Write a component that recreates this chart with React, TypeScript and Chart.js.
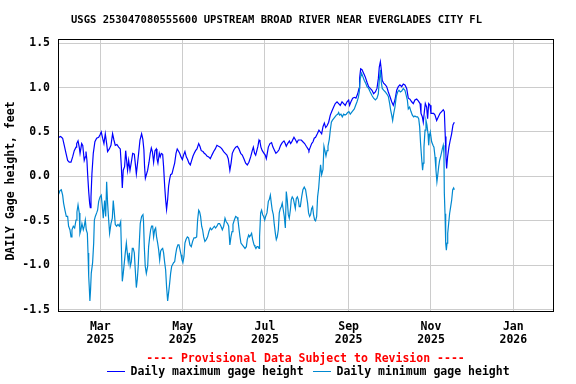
import React, { useEffect, useRef } from "react";
import { Chart, registerables } from "chart.js";

Chart.register(...registerables);

// Days counted from Jan 1, 2025 (= day 0)
const tickDays = [59, 120, 181, 243, 304, 365];
const tickMonths = ["Mar", "May", "Jul", "Sep", "Nov", "Jan"];
const tickYears = ["2025", "2025", "2025", "2025", "2025", "2026"];
const yTicks = [-1.5, -1.0, -0.5, 0.0, 0.5, 1.0, 1.5];

const maxDays = [
  28.1, 29.6, 31.1, 32.3, 33.6, 34.8, 36.0, 37.3, 38.5, 39.7, 41.0, 41.5, 42.5, 43.4, 44.0, 44.5, 45.2, 46.0, 47.1, 47.9,
  48.4, 49.1, 49.6, 50.4, 51.1, 51.6, 52.1, 52.8, 53.8, 55.0, 56.3, 57.8, 58.8, 59.7, 60.7, 61.7, 62.7, 63.7, 64.4, 65.7,
  66.9, 68.1, 69.1, 70.1, 71.3, 72.6, 73.8, 74.6, 75.3, 76.0, 77.0, 77.8, 78.5, 79.2, 80.0, 81.0, 82.0, 83.0, 84.2, 84.9,
  85.7, 86.6, 87.4, 88.4, 89.6, 90.5, 91.3, 91.8, 92.4, 94.1, 95.1, 96.0, 96.8, 97.6, 98.5, 99.5, 100.5, 101.0, 101.7, 102.7,
  103.4, 104.2, 105.2, 105.9, 106.7, 107.4, 108.1, 108.9, 109.6, 110.4, 111.1, 112.1, 113.1, 114.1, 115.1, 116.0, 116.8, 117.8, 118.8, 119.8,
  120.7, 121.7, 122.7, 123.7, 124.7, 125.7, 126.7, 127.7, 128.6, 129.6, 130.6, 131.9, 132.8, 133.8, 135.1, 136.0, 137.0, 138.0, 139.3, 140.5,
  141.7, 143.0, 144.2, 145.4, 146.6, 147.9, 149.1, 150.4, 151.6, 152.8, 153.8, 155.0, 155.9, 156.8, 158.0, 159.3, 160.5, 161.7, 163.0, 164.2,
  165.4, 166.7, 167.9, 169.1, 170.4, 171.6, 172.4, 173.3, 174.1, 174.8, 175.8, 176.6, 177.3, 178.0, 179.0, 180.3, 181.2, 182.0, 182.7, 183.5,
  184.7, 185.9, 186.9, 188.2, 189.1, 190.4, 191.4, 192.6, 193.8, 195.1, 195.8, 196.8, 197.8, 199.1, 200.0, 200.5, 201.2, 202.5, 203.7, 204.7,
  205.7, 206.7, 207.9, 209.1, 210.4, 211.6, 212.9, 213.6, 214.6, 215.6, 216.6, 217.5, 218.5, 219.8, 221.0, 222.0, 223.0, 224.0, 225.0, 226.0,
  227.0, 228.2, 229.4, 230.7, 231.9, 233.1, 234.4, 235.6, 236.8, 238.1, 239.3, 240.5, 241.8, 243.0, 243.7, 244.7, 246.0, 247.2, 248.4, 249.7,
  250.7, 251.1, 251.9, 252.9, 254.1, 255.3, 256.6, 257.8, 259.0, 260.3, 261.5, 262.8, 264.0, 265.0, 265.7, 266.5, 267.2, 267.9, 268.9, 270.2,
  271.2, 272.4, 273.6, 274.9, 276.1, 277.3, 278.6, 279.8, 281.0, 282.3, 283.5, 284.7, 286.0, 287.2, 288.4, 289.7, 290.9, 292.1, 293.4, 294.6,
  295.9, 296.6, 297.6, 298.3, 299.1, 299.8, 300.8, 301.5, 302.3, 303.3, 304.0, 305.0, 306.0, 307.0, 308.2, 309.4, 310.7, 311.9, 313.1, 313.9,
  314.6, 315.1, 315.6, 316.3, 317.3, 318.3, 319.3, 320.3, 321.3,
];
const maxHeights = [
  0.44, 0.45, 0.43, 0.35, 0.26, 0.18, 0.16, 0.16, 0.22, 0.29, 0.33, 0.37, 0.40, 0.33, 0.26, 0.26, 0.37, 0.35, 0.18, 0.22,
  0.28, 0.18, 0.03, -0.17, -0.30, -0.35, -0.23, 0.03, 0.26, 0.39, 0.43, 0.44, 0.47, 0.50, 0.43, 0.37, 0.48, 0.37, 0.28, 0.31,
  0.35, 0.48, 0.41, 0.35, 0.36, 0.33, 0.31, 0.11, -0.13, 0.07, 0.11, 0.29, 0.18, 0.07, 0.18, 0.07, 0.16, 0.26, 0.25, 0.15,
  0.03, 0.15, 0.26, 0.41, 0.48, 0.42, 0.30, 0.11, -0.02, 0.07, 0.16, 0.26, 0.32, 0.28, 0.16, 0.29, 0.31, 0.20, 0.15, 0.26,
  0.22, 0.26, 0.25, 0.11, -0.11, -0.26, -0.37, -0.26, -0.11, -0.03, 0.02, 0.03, 0.09, 0.15, 0.26, 0.31, 0.29, 0.26, 0.22, 0.19,
  0.24, 0.28, 0.22, 0.19, 0.15, 0.13, 0.18, 0.23, 0.26, 0.29, 0.31, 0.37, 0.34, 0.29, 0.28, 0.26, 0.25, 0.23, 0.22, 0.20,
  0.24, 0.28, 0.31, 0.35, 0.34, 0.33, 0.31, 0.28, 0.26, 0.24, 0.20, 0.07, 0.15, 0.26, 0.30, 0.33, 0.34, 0.31, 0.26, 0.24,
  0.20, 0.15, 0.13, 0.16, 0.22, 0.29, 0.33, 0.26, 0.24, 0.28, 0.34, 0.41, 0.39, 0.33, 0.29, 0.26, 0.24, 0.20, 0.26, 0.33,
  0.37, 0.38, 0.33, 0.29, 0.26, 0.28, 0.30, 0.35, 0.38, 0.40, 0.38, 0.34, 0.37, 0.40, 0.37, 0.38, 0.40, 0.44, 0.41, 0.38,
  0.41, 0.41, 0.41, 0.39, 0.37, 0.34, 0.31, 0.29, 0.33, 0.37, 0.39, 0.43, 0.44, 0.48, 0.52, 0.50, 0.48, 0.56, 0.60, 0.55,
  0.57, 0.61, 0.69, 0.74, 0.78, 0.82, 0.84, 0.82, 0.80, 0.84, 0.82, 0.80, 0.84, 0.86, 0.80, 0.84, 0.88, 0.89, 0.88, 0.93,
  0.99, 1.10, 1.21, 1.20, 1.16, 1.12, 1.06, 1.01, 0.99, 0.97, 0.93, 0.95, 0.99, 1.10, 1.23, 1.29, 1.20, 1.08, 1.05, 1.03,
  1.01, 0.95, 0.90, 0.84, 0.80, 0.86, 0.97, 1.01, 1.03, 1.01, 1.04, 1.03, 0.99, 0.88, 0.87, 0.84, 0.82, 0.86, 0.87, 0.85,
  0.82, 0.71, 0.67, 0.61, 0.73, 0.82, 0.78, 0.65, 0.82, 0.80, 0.71, 0.71, 0.71, 0.69, 0.63, 0.67, 0.71, 0.73, 0.75, 0.73,
  0.45, 0.22, 0.09, 0.22, 0.33, 0.41, 0.48, 0.58, 0.61,
];

const minDays = [
  28.1, 29.1, 30.1, 31.1, 31.8, 32.8, 33.8, 34.8, 35.5, 36.5, 37.3, 38.0, 39.0, 40.0, 41.0, 41.7, 42.5, 43.4, 43.9, 44.6,
  45.4, 46.4, 47.1, 47.9, 48.6, 49.4, 49.9, 50.4, 50.9, 51.3, 51.8, 52.3, 53.3, 54.1, 54.6, 55.3, 56.3, 57.0, 57.8, 58.8,
  59.7, 60.5, 61.2, 62.2, 63.0, 63.7, 64.4, 65.2, 65.9, 66.9, 67.9, 68.6, 69.4, 70.1, 71.1, 72.1, 73.1, 74.1, 74.6, 75.3,
  76.0, 76.8, 77.5, 78.3, 79.0, 79.7, 80.5, 81.2, 82.0, 82.7, 83.4, 84.2, 84.9, 85.7, 86.4, 87.1, 87.9, 88.6, 89.6, 90.6,
  91.0, 91.6, 92.3, 93.1, 94.1, 94.8, 95.6, 96.3, 97.0, 97.8, 98.5, 99.3, 100.0, 100.7, 101.5, 102.2, 103.0, 103.7, 104.4, 105.2,
  105.9, 106.7, 107.4, 108.1, 108.9, 109.6, 110.4, 111.1, 111.9, 112.6, 113.3, 114.1, 114.8, 115.6, 116.5, 117.3, 118.0, 118.8, 119.5, 120.2,
  121.0, 121.7, 122.5, 123.5, 124.4, 125.4, 126.4, 127.4, 128.4, 129.4, 130.4, 131.1, 131.9, 132.6, 133.3, 134.1, 134.8, 135.6, 136.5, 137.5,
  138.5, 139.5, 140.5, 141.5, 142.5, 143.5, 144.4, 145.4, 146.4, 147.4, 148.4, 149.4, 150.4, 151.4, 152.3, 153.3, 154.1, 155.0, 155.8, 156.6,
  157.3, 158.3, 159.3, 160.3, 161.0, 161.7, 162.5, 163.2, 164.2, 165.2, 166.2, 167.2, 167.9, 168.9, 169.6, 170.4, 171.1, 171.9, 172.9, 173.6,
  174.3, 175.1, 175.9, 176.6, 177.0, 177.8, 178.5, 179.3, 180.0, 180.8, 181.5, 182.5, 183.5, 184.2, 185.0, 185.7, 186.4, 187.2, 187.9, 188.7,
  189.4, 190.1, 190.9, 191.6, 192.4, 193.1, 193.8, 194.6, 195.3, 196.1, 196.8, 197.5, 198.3, 199.0, 199.8, 200.5, 201.2, 202.0, 202.7, 203.5,
  204.2, 205.0, 205.7, 206.4, 207.2, 208.2, 209.1, 210.1, 211.1, 211.9, 212.6, 213.3, 214.1, 214.8, 215.6, 216.3, 217.0, 217.8, 218.5, 219.3,
  220.0, 220.8, 221.5, 222.2, 223.0, 224.0, 224.7, 225.4, 226.2, 227.0, 227.7, 228.7, 229.4, 230.2, 230.9, 231.9, 232.9, 233.9, 234.9, 235.6,
  236.3, 237.3, 238.3, 239.3, 240.3, 241.3, 242.3, 243.2, 244.2, 245.2, 246.2, 247.2, 248.2, 249.2, 250.2, 250.9, 251.6, 252.6, 253.6, 254.6,
  255.6, 256.6, 257.8, 259.0, 260.3, 261.5, 262.8, 264.0, 265.0, 265.7, 266.5, 267.2, 267.9, 268.9, 270.2, 271.2, 272.4, 273.4, 274.1, 274.9,
  275.6, 276.4, 277.3, 278.3, 279.3, 280.3, 281.3, 282.3, 283.5, 284.7, 285.7, 286.5, 287.2, 288.2, 289.2, 290.2, 291.2, 292.1, 293.1, 294.1,
  294.9, 295.6, 296.3, 297.1, 297.8, 298.3, 298.8, 299.6, 300.3, 301.0, 301.8, 302.3, 302.8, 303.5, 304.5, 305.5, 306.2, 307.0, 307.7, 308.4,
  308.9, 309.7, 310.4, 311.4, 312.4, 313.1, 313.6, 313.9, 314.4, 314.9, 315.4, 315.9, 316.4, 317.1, 317.8, 318.6, 319.3, 320.1, 320.8, 321.3,
];
const minHeights = [
  -0.20, -0.16, -0.15, -0.21, -0.30, -0.38, -0.45, -0.45, -0.56, -0.60, -0.68, -0.60, -0.56, -0.58, -0.49, -0.40, -0.32, -0.41, -0.64, -0.60,
  -0.53, -0.60, -0.56, -0.49, -0.60, -0.64, -0.86, -1.12, -1.27, -1.40, -1.27, -1.09, -0.97, -0.75, -0.49, -0.45, -0.41, -0.38, -0.28, -0.23,
  -0.21, -0.34, -0.47, -0.27, -0.45, -0.06, -0.30, -0.49, -0.64, -0.53, -0.47, -0.27, -0.41, -0.54, -0.56, -0.54, -0.56, -0.51, -0.79, -1.18,
  -1.09, -0.97, -0.86, -0.75, -0.86, -0.96, -0.86, -1.01, -0.96, -0.81, -0.81, -0.86, -1.05, -1.25, -1.16, -1.01, -0.75, -0.53, -0.45, -0.43,
  -0.50, -0.79, -1.01, -1.09, -1.01, -0.79, -0.68, -0.60, -0.56, -0.56, -0.68, -0.60, -0.58, -0.68, -0.75, -0.82, -0.94, -0.84, -0.82, -0.81,
  -0.86, -0.97, -1.05, -1.24, -1.40, -1.31, -1.20, -1.09, -1.01, -0.99, -0.97, -0.96, -0.88, -0.81, -0.77, -0.77, -0.82, -0.88, -0.94, -0.97,
  -0.90, -0.75, -0.71, -0.68, -0.69, -0.77, -0.79, -0.73, -0.69, -0.69, -0.68, -0.49, -0.38, -0.40, -0.45, -0.56, -0.60, -0.68, -0.73, -0.71,
  -0.68, -0.62, -0.58, -0.60, -0.58, -0.56, -0.58, -0.56, -0.53, -0.53, -0.56, -0.60, -0.56, -0.47, -0.51, -0.53, -0.56, -0.77, -0.68, -0.62,
  -0.54, -0.49, -0.45, -0.46, -0.49, -0.58, -0.68, -0.75, -0.77, -0.79, -0.81, -0.79, -0.71, -0.66, -0.68, -0.66, -0.64, -0.71, -0.77, -0.79,
  -0.81, -0.79, -0.79, -0.81, -0.68, -0.41, -0.38, -0.43, -0.45, -0.49, -0.45, -0.41, -0.28, -0.26, -0.21, -0.30, -0.38, -0.43, -0.54, -0.64,
  -0.71, -0.68, -0.60, -0.41, -0.36, -0.34, -0.30, -0.38, -0.45, -0.58, -0.17, -0.26, -0.43, -0.47, -0.38, -0.26, -0.23, -0.25, -0.30, -0.36,
  -0.25, -0.23, -0.26, -0.34, -0.34, -0.23, -0.15, -0.12, -0.15, -0.23, -0.30, -0.41, -0.45, -0.43, -0.36, -0.34, -0.43, -0.49, -0.50, -0.45,
  -0.23, -0.13, 0.01, 0.13, 0.02, 0.08, 0.34, 0.29, 0.23, 0.29, 0.34, 0.42, 0.52, 0.61, 0.63, 0.65, 0.67, 0.69, 0.70, 0.72,
  0.69, 0.70, 0.67, 0.70, 0.69, 0.70, 0.72, 0.73, 0.70, 0.72, 0.74, 0.76, 0.80, 0.84, 0.89, 0.95, 1.10, 1.16, 1.12, 1.08,
  1.05, 1.01, 0.99, 0.95, 0.91, 0.88, 0.86, 0.88, 0.93, 1.08, 1.20, 1.06, 0.99, 0.97, 0.95, 0.93, 0.90, 0.82, 0.75, 0.69,
  0.63, 0.71, 0.78, 0.90, 0.95, 0.97, 0.95, 0.96, 0.99, 0.97, 0.91, 0.86, 0.76, 0.78, 0.73, 0.69, 0.67, 0.68, 0.67, 0.67,
  0.65, 0.56, 0.37, 0.20, 0.07, 0.15, 0.33, 0.52, 0.63, 0.58, 0.48, 0.35, 0.45, 0.50, 0.39, 0.35, 0.33, 0.22, 0.07, -0.06,
  0.00, 0.11, 0.18, 0.24, 0.31, 0.35, 0.26, -0.19, -0.42, -0.75, -0.83, -0.75, -0.64, -0.53, -0.42, -0.34, -0.27, -0.15, -0.13, -0.15,
];

const TITLE = "USGS 253047080555600 UPSTREAM BROAD RIVER NEAR EVERGLADES CITY FL";
const Y_TITLE = "DAILY Gage height, feet";
const PROVISIONAL = "---- Provisional Data Subject to Revision ----";
const LEGEND_MAX = "Daily maximum gage height";
const LEGEND_MIN = "Daily minimum gage height";
const COLOR_MAX = "#0000ff";
const COLOR_MIN = "#0088d0";
const MONO = "'DejaVu Sans Mono', 'Liberation Mono', monospace";

const decorPlugin = {
  id: "decor",
  afterDraw(chart: any) {
    const { ctx, chartArea } = chart;
    ctx.save();
    // plot border
    ctx.strokeStyle = "#000";
    ctx.lineWidth = 1;
    ctx.strokeRect(
      Math.round(chartArea.left) + 0.5,
      Math.round(chartArea.top) - 0.5,
      Math.round(chartArea.right - chartArea.left) - 1,
      Math.round(chartArea.bottom - chartArea.top)
    );
    ctx.fillStyle = "#000";
    ctx.textBaseline = "middle";
    ctx.textAlign = "center";
    ctx.font = `bold 10.5px ${MONO}`;
    ctx.fillText(TITLE, 276.5, 20.5);

    ctx.font = `bold 11.5px ${MONO}`;
    ctx.fillStyle = "#ff0000";
    ctx.fillText(PROVISIONAL, 305.5, 359);

    // y axis title
    ctx.save();
    ctx.translate(11.5, 181);
    ctx.rotate(-Math.PI / 2);
    ctx.fillStyle = "#000";
    ctx.fillText(Y_TITLE, 0, 0);
    ctx.restore();

    // legend
    ctx.textAlign = "left";
    ctx.fillStyle = "#000";
    ctx.lineWidth = 1;
    ctx.strokeStyle = COLOR_MAX;
    ctx.beginPath();
    ctx.moveTo(107, 371.5);
    ctx.lineTo(125, 371.5);
    ctx.stroke();
    ctx.fillText(LEGEND_MAX, 130.5, 372.5);
    ctx.strokeStyle = COLOR_MIN;
    ctx.beginPath();
    ctx.moveTo(313, 371.5);
    ctx.lineTo(331, 371.5);
    ctx.stroke();
    ctx.fillText(LEGEND_MIN, 336.5, 372.5);
    ctx.restore();
  },
};

export default function App() {
  const ref = useRef<HTMLCanvasElement | null>(null);
  useEffect(() => {
    if (!ref.current) return;
    const maxData = maxDays.map((d, i) => ({ x: d, y: maxHeights[i] }));
    const minData = minDays.map((d, i) => ({ x: d, y: minHeights[i] }));
    const chart = new Chart(ref.current, {
      type: "line",
      data: {
        datasets: [
          {
            label: LEGEND_MIN,
            data: minData,
            borderColor: COLOR_MIN,
            borderWidth: 1.2,
            pointRadius: 0,
            tension: 0,
            fill: false,
          },
          {
            label: LEGEND_MAX,
            data: maxData,
            borderColor: COLOR_MAX,
            borderWidth: 1.2,
            pointRadius: 0,
            tension: 0,
            fill: false,
          },
        ],
      },
      options: {
        responsive: false,
        maintainAspectRatio: false,
        animation: false,
        devicePixelRatio: 1,
        layout: { padding: { left: 0, top: 40, right: 22, bottom: 0 } },
        plugins: {
          legend: { display: false },
          title: { display: false },
          tooltip: { enabled: false },
        },
        scales: {
          x: {
            type: "linear",
            min: 27.66,
            max: 395.15,
            afterBuildTicks: (scale: any) => {
              scale.ticks = tickDays.map((v) => ({ value: v }));
            },
            afterFit: (scale: any) => {
              scale.height = 72;
            },
            grid: { color: "#cccccc", lineWidth: 1, drawTicks: false },
            border: { display: false },
            ticks: {
              autoSkip: false,
              maxRotation: 0,
              minRotation: 0,
              padding: 8,
              color: "#000",
              font: { family: MONO, weight: "bold", size: 11.5, lineHeight: 1.16 },
              callback: (value: any) => {
                const i = tickDays.indexOf(Number(value));
                return i >= 0 ? [tickMonths[i], tickYears[i]] : "";
              },
            },
          },
          y: {
            type: "linear",
            min: -1.525,
            max: 1.535,
            afterBuildTicks: (scale: any) => {
              scale.ticks = yTicks.map((v) => ({ value: v }));
            },
            afterFit: (scale: any) => {
              scale.width = 58;
            },
            grid: { color: "#cccccc", lineWidth: 1, drawTicks: false },
            border: { display: false },
            ticks: {
              padding: 8,
              color: "#000",
              font: { family: MONO, weight: "bold", size: 11.5 },
              callback: (value: any) => Number(value).toFixed(1),
            },
          },
        },
      },
      plugins: [decorPlugin],
    } as any);
    return () => chart.destroy();
  }, []);

  return (
    <div style={{ position: "fixed", left: 0, top: 0, width: 576, height: 384, background: "#fff" }}>
      <canvas ref={ref} width={576} height={384} style={{ display: "block", width: 576, height: 384 }} />
    </div>
  );
}
